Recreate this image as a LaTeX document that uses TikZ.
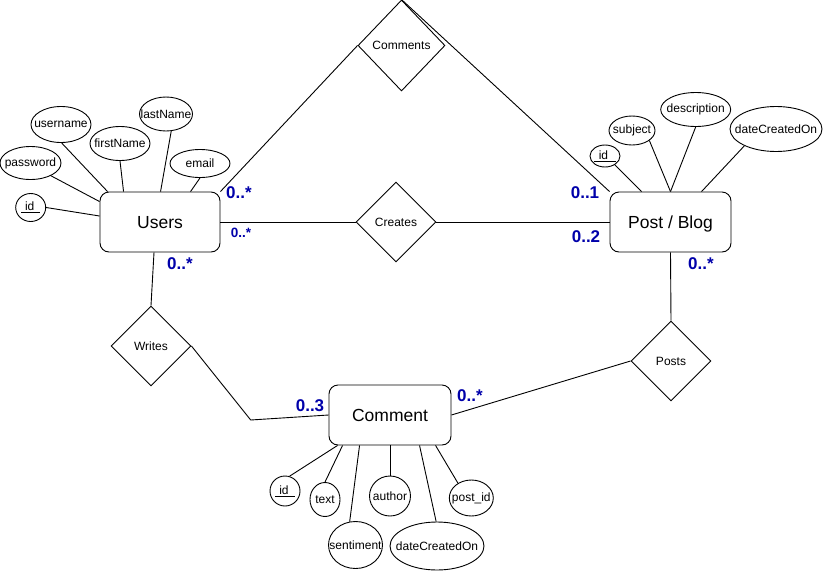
\documentclass[tikz,border=0pt]{standalone}
\usepackage{fontspec}
\setmainfont{Liberation Sans}
\usetikzlibrary{shapes.geometric,calc}
\definecolor{lblue}{RGB}{0,0,170}
\begin{document}
\begin{tikzpicture}[x=1pt,y=-1pt,line width=0.9pt,
  entity/.style={draw, rounded corners=9pt, minimum height=60pt, inner sep=0pt,
    font=\fontsize{17.5}{20}\selectfont, text height=12.5pt, text depth=0pt},
  rel/.style={draw, diamond, inner sep=0pt, minimum width=80pt, minimum height=80pt,
    font=\fontsize{12}{14}\selectfont},
  attr/.style={draw, ellipse, inner sep=0pt, fill=white},
  attrtext/.style={font=\fontsize{12}{14}\selectfont, inner sep=0pt},
  card/.style={text=lblue, font=\bfseries\fontsize{17}{20}\selectfont, inner sep=0pt},
  cardsm/.style={card, font=\bfseries\fontsize{13.5}{16}\selectfont}
]
\useasboundingbox (0,0) rectangle (823,571);

% entities
\node[entity, minimum width=120pt] (users) at (160,222) {Users};
\node[entity, minimum width=121pt] (post) at (670.5,222) {Post / Blog};
\node[entity, minimum width=122pt] (comment) at (390,415) {Comment};

% relationships
\node[rel, minimum width=87pt, minimum height=91pt] (comments) at (401.5,45.5) {Comments};
\node[rel] (creates) at (396,222) {Creates};
\node[rel] (writes) at (151,346) {Writes};
\node[rel] (posts) at (671,361) {Posts};

% users attributes
\node[attr, minimum width=30pt, minimum height=28pt, label={[attrtext]center:\underline{\hspace{4pt}id\hspace{6pt}}}] (uid) at (30.7,207.5) {};
\node[attr, minimum width=61pt, minimum height=33pt, label={[attrtext]center:password}] (upass) at (30.5,163) {};
\node[attr, minimum width=60pt, minimum height=36pt, label={[attrtext]center:username}] (uname) at (61,124.5) {};
\node[attr, minimum width=60pt, minimum height=34pt, label={[attrtext]center:firstName}] (ufirst) at (120,143.5) {};
\node[attr, minimum width=53pt, minimum height=34pt, label={[attrtext]center:lastName}] (ulast) at (166,114) {};
\node[attr, minimum width=60pt, minimum height=28pt, label={[attrtext]center:email}] (uemail) at (200,163.5) {};

% post attributes
\node[attr, minimum width=30pt, minimum height=22pt, label={[attrtext]center:\underline{\hspace{5pt}id\hspace{8pt}}}] (pid) at (605,156) {};
\node[attr, minimum width=46pt, minimum height=29pt, label={[attrtext]center:subject}] (psub) at (632,130.5) {};
\node[attr, minimum width=70pt, minimum height=34pt, label={[attrtext]center:description}] (pdesc) at (695.7,109.5) {};
\node[attr, minimum width=92pt, minimum height=45pt, label={[attrtext]center:dateCreatedOn}] (pdate) at (776,129) {};

% comment attributes
\node[attr, minimum width=30pt, minimum height=30pt, label={[attrtext]center:\underline{\hspace{4pt}id\hspace{6pt}}}] (cid) at (285,491) {};
\node[attr, minimum width=30pt, minimum height=34pt, label={[attrtext]center:text}] (ctext) at (325,499.5) {};
\node[attr, minimum width=54pt, minimum height=47pt, label={[attrtext]center:sentiment}] (csent) at (355.5,545) {};
\node[attr, minimum width=41pt, minimum height=40pt, label={[attrtext]center:author}] (cauth) at (390,496) {};
\node[attr, minimum width=94pt, minimum height=48pt, label={[attrtext]center:dateCreatedOn}] (cdate) at (437,546) {};
\node[attr, minimum width=44pt, minimum height=36pt, label={[attrtext]center:post\_id}] (cpost) at (471.3,498) {};

% relationship connectors
\draw (users.north east) -- (comments.west);
\draw (comments.north) -- (post.north west);
\draw (users.east) -- (creates.west);
\draw (creates.east) -- (post.west);
\draw ($(users.south)+(-6,0)$) -- (writes.north);
\coordinate (wbend) at (250.7,420);
\draw (writes.east) -- (wbend) -- (comment.west);
\draw (post.south) -- (posts.north);
\draw (posts.west) -- (comment.east);

% attribute connectors: users
\draw (uid.east) -- ($(users.west)+(0,-6)$);
\draw (upass.-32) -- ($(users.north west)+(0,10)$);
\draw (uname.-88) -- ($(users.north west)+(8,0)$);
\draw (ufirst.south) -- ($(users.north west)+(24,0)$);
\draw (ulast.-73) -- ($(users.north west)+(61,0)$);
\draw (uemail.south) -- ($(users.north west)+(91,0)$);

% attribute connectors: post
\draw (pid.-42) -- ($(post.north west)+(32,0)$);
\draw (psub.-30) -- (post.north);
\draw (pdesc.south) -- (post.north);
\draw (pdate.208) -- ($(post.north west)+(92,0)$);

% attribute connectors: comment
\draw (cid.73) -- ($(comment.south west)+(9,0)$);
\draw (ctext.north) -- ($(comment.south west)+(14,0)$);
\draw (csent.104) -- ($(comment.south west)+(31,0)$);
\draw (cauth.north) -- (comment.south);
\draw (cdate.92) -- ($(comment.south west)+(91,0)$);
\draw (cpost.132) -- ($(comment.south west)+(107,0)$);

% cardinalities
\node[card] (c1) at (239,192.5) {0..*};
\node[cardsm] (c2) at (241,233) {0..*};
\node[card] (c3) at (180,264) {0..*};
\node[card] (c4) at (585,193) {0..1};
\node[card] (c5) at (586,236.5) {0..2};
\node[card] (c6) at (701,264) {0..*};
\node[card] (c7) at (310,406) {0..3};
\node[card] (c8) at (470,396) {0..*};
\end{tikzpicture}
\end{document}
